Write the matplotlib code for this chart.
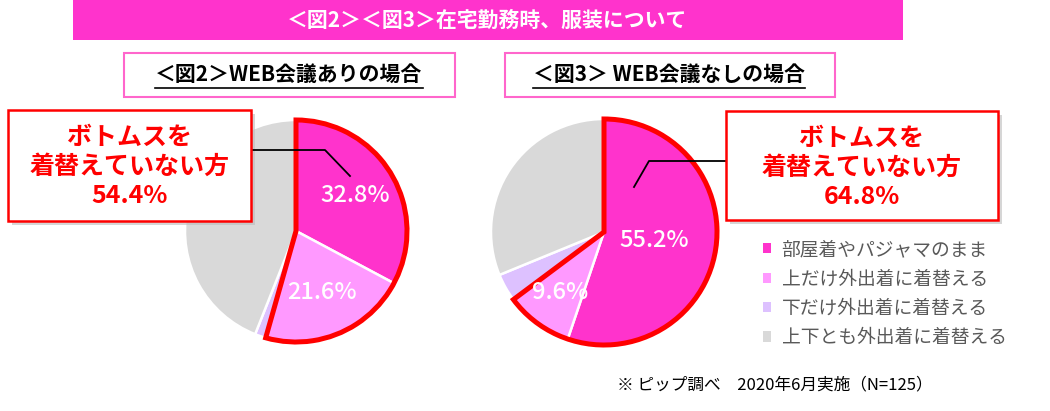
import matplotlib.pyplot as plt
import numpy as np
from matplotlib.patches import Rectangle, Wedge

plt.rcParams['font.family'] = ['Noto Sans CJK JP', 'DejaVu Sans']

# データ
categories = ['部屋着やパジャマのまま', '上だけ外出着に着替える', '下だけ外出着に着替える', '上下とも外出着に着替える']
colors = ['#FF33CC', '#FF99FF', '#DDC1FF', '#D9D9D9']
web_yes = [32.8, 21.6, 1.6, 44.0]   # 図2 WEB会議あり
web_no = [55.2, 9.6, 4.0, 31.2]     # 図3 WEB会議なし
callout_yes = ['ボトムスを', '着替えていない方', '54.4%']
callout_no = ['ボトムスを', '着替えていない方', '64.8%']

W, H = 1050, 411
fig = plt.figure(figsize=(W / 100, H / 100), dpi=100)


def pie_axes(cx, cy, r):
    return fig.add_axes([(cx - r) / W, (H - cy - r) / H, 2 * r / W, 2 * r / H])


def draw_pie(ax, vals, label_dist):
    wedges, _ = ax.pie(vals, colors=colors, startangle=90, counterclock=False,
                       wedgeprops=dict(edgecolor='white', linewidth=1.8))
    # ボトムスを着替えていない方（先頭2つ）を赤枠で囲む
    start = 90
    end = 90 - (vals[0] + vals[1]) * 3.6
    ax.add_patch(Wedge((0, 0), 1.0, end, start, facecolor='none', edgecolor='#FF0000',
                       linewidth=3.6, joinstyle='miter', zorder=5, clip_on=False))
    ang = 90.0
    for i, v in enumerate(vals[:2]):
        mid = np.deg2rad(ang - v * 1.8)
        d = label_dist[i]
        ax.text(d * np.cos(mid), d * np.sin(mid), f'{v:.1f}%', color='white',
                fontsize=17, fontweight='medium', ha='center', va='center', zorder=6)
        ang -= v * 3.6
    ax.set_xlim(-1, 1)
    ax.set_ylim(-1, 1)
    return wedges


ax1 = pie_axes(296, 231, 111)
draw_pie(ax1, web_yes, [0.62, 0.6])
ax2 = pie_axes(604, 232, 113)
draw_pie(ax2, web_no, [0.45, 0.66])

# 上に重ねる注釈用の軸
ov = fig.add_axes([0, 0, 1, 1])
ov.set_xlim(0, W)
ov.set_ylim(H, 0)
ov.axis('off')

# タイトル帯
ov.add_patch(Rectangle((73, 0), 830, 40, facecolor='#FF33CC', edgecolor='none'))
ov.text(487, 20, '＜図2＞＜図3＞在宅勤務時、服装について', color='white', fontsize=15,
        fontweight='bold', ha='center', va='center')

# サブタイトル
for x0, x1, txt, ux0, ux1 in [(124, 455, '＜図2＞WEB会議ありの場合', 155, 423),
                              (505, 835, '＜図3＞ WEB会議なしの場合', 533, 805)]:
    ov.add_patch(Rectangle((x0, 53), x1 - x0, 44, facecolor='white', edgecolor='#FF66CC', linewidth=1.5))
    ov.text((ux0 + ux1) / 2, 74, txt, fontsize=15, fontweight='bold', ha='center', va='center')
    ov.plot([ux0, ux1], [88, 88], color='black', linewidth=1.2)

# 吹き出し
for (bx, by, bw, bh), lines, path in [((8, 110, 243, 111), callout_yes,
                                       ([251, 325, 350], [150, 150, 176])),
                                      ((726, 111, 272, 109), callout_no,
                                       ([726, 649, 634], [161, 161, 187]))]:
    ov.plot(path[0], path[1], color='black', linewidth=1.3, zorder=3)
    ov.add_patch(Rectangle((bx + 4, by + 4), bw, bh, facecolor='#BBBBBB', edgecolor='none',
                           alpha=0.6, zorder=2))
    ov.add_patch(Rectangle((bx, by), bw, bh, facecolor='white', edgecolor='#FF0000',
                           linewidth=1.8, zorder=4))
    cx = bx + bw / 2
    for j, t in enumerate(lines):
        ov.text(cx, by + 28 + j * 29, t, color='#FF0000', fontsize=18, fontweight='bold',
                ha='center', va='center', zorder=5)

# 凡例
handles = [Rectangle((0, 0), 1, 1, facecolor=c, edgecolor='none') for c in colors]
fig.legend(handles, categories, loc='upper left', bbox_to_anchor=(746 / W, 1 - 222 / H),
           frameon=False, handlelength=0.45, handleheight=0.45, handletextpad=0.55,
           labelspacing=0.45, fontsize=13.5, labelcolor='#595959')

ov.text(617, 385, '※ ピップ調べ　2020年6月実施（N=125）', fontsize=12, ha='left', va='center')

fig.savefig('out.png', dpi=100)
